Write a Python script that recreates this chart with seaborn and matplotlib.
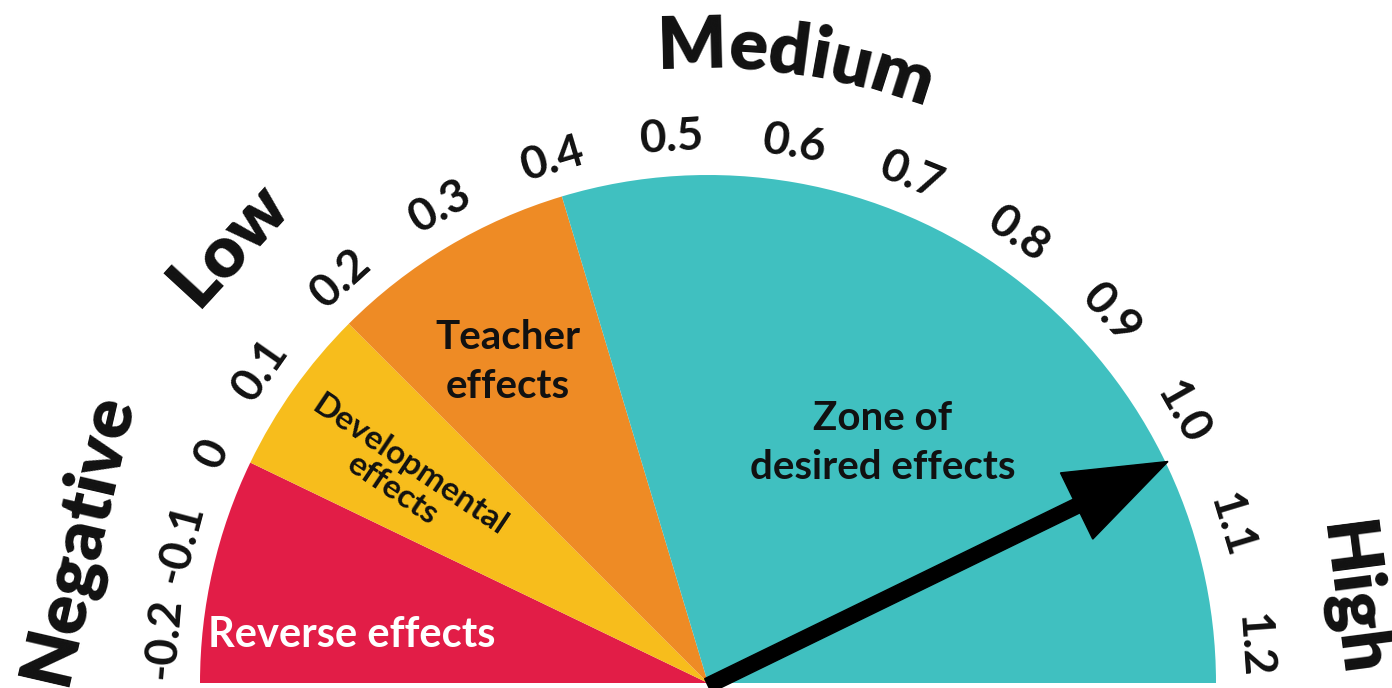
import numpy as np
import matplotlib
matplotlib.use("Agg")
import matplotlib.pyplot as plt
from matplotlib.patches import Wedge, FancyArrow
import seaborn as sns

# effect-size barometer
zone_names = ["Reverse effects", "Developmental\neffects", "Teacher\neffects", "Zone of\ndesired effects"]
zone_edges = [-0.2, 0.0, 0.15, 0.37, 1.2]
zone_colors = ["#E21D47", "#F7BD1C", "#EE8B25", "#40C0C0"]
tick_values = [-0.2, -0.1, 0.0, 0.1, 0.2, 0.3, 0.4, 0.5, 0.6, 0.7, 0.8, 0.9, 1.0, 1.1, 1.2]
tick_labels = ["-0.2", "-0.1", "0", "0.1", "0.2", "0.3", "0.4", "0.5", "0.6", "0.7", "0.8", "0.9", "1.0", "1.1", "1.2"]
band_names = ["Negative", "Low", "Medium", "High"]
needle_value = 1.0

sns.set_theme(style="white")
plt.rcParams["font.family"] = ["Lato", "DejaVu Sans"]
INK = "#111111"

lo, hi = zone_edges[0], zone_edges[-1]


def ang(v):
    return 180 - (v - lo) / (hi - lo) * 180


def polar(r, a):
    t = np.deg2rad(a)
    return r * np.cos(t), r * np.sin(t)


fig = plt.figure(figsize=(13.92, 6.88), dpi=100)
ax = fig.add_axes([0, 0, 1, 1])
R = 508.0
ax.set_xlim(-708 / R, 684 / R)
ax.set_ylim(-5 / R, 683 / R)
ax.set_aspect("equal")
ax.axis("off")
renderer = fig.canvas.get_renderer()

palette = sns.color_palette(zone_colors)
for i in range(len(zone_names)):
    w = Wedge((0, 0), 1.0, ang(zone_edges[i + 1]), ang(zone_edges[i]),
              facecolor=palette[i], edgecolor="none")
    ax.add_patch(w)

# zone labels
mid = [ang((zone_edges[i] + zone_edges[i + 1]) / 2) for i in range(4)]
ax.text(-0.985, 0.094, zone_names[0], color="white", fontsize=30, fontweight="bold",
        ha="left", va="center")
a_dev = mid[1] + 1.5
x, y = polar(0.727, a_dev)
ax.text(x, y, zone_names[1], color=INK, fontsize=24, fontweight="bold", ha="center",
        va="center", rotation=a_dev - 180, rotation_mode="anchor", linespacing=1.0)
x, y = polar(0.745, mid[2] + 1)
ax.text(x, y, zone_names[2], color=INK, fontsize=29, fontweight="bold", ha="center",
        va="center", linespacing=1.4)
x, y = polar(0.585, mid[3] + 0.6)
ax.text(x, y, zone_names[3], color=INK, fontsize=29, fontweight="bold", ha="center",
        va="center", linespacing=1.4)

# tick labels around the rim (spacing is a bit tighter at the left end)
for v, s in zip(tick_values, tick_labels):
    a = np.interp(v, [-0.2, 0.1, 1.2], [175.3, 145.0, 4.0])
    x, y = polar(1.075, a)
    ax.text(x, y, s, color=INK, fontsize=33, fontweight="bold", ha="center", va="center",
            rotation=a - 90, rotation_mode="anchor")

# band labels
band_angles = [167, 137.4, 82.0, 7.4]
band_radii = [1.27, 1.28, 1.21, 1.275]


def arc_text(s, r, a0, **kw):
    # lay characters along a circle, centred on angle a0
    widths = []
    for i in range(len(s) + 1):
        t = ax.text(0, 0, s[:i] if i else "", **kw)
        widths.append(t.get_window_extent(renderer).width if i else 0.0)
        t.remove()
    total = widths[-1]
    for i, ch in enumerate(s):
        c = (widths[i] + widths[i + 1]) / 2 - total / 2
        a = a0 - np.rad2deg(c / (r * R))
        x, y = polar(r, a)
        ax.text(x, y, ch, ha="center", va="baseline", rotation=a - 90,
                rotation_mode="anchor", **kw)


for name, a, r in zip(band_names, band_angles, band_radii):
    style = dict(color=INK, fontsize=52, fontweight="heavy")
    if name == "Medium":
        arc_text(name, r, a, **style)
    else:
        x, y = polar(r, a)
        ax.text(x, y, name, ha="center", va="center", rotation=a - 90,
                rotation_mode="anchor", **style)

# needle
tx, ty = polar(1.005, ang(needle_value))
ax.add_patch(FancyArrow(0, -0.005, tx, ty + 0.005, width=0.03, head_width=0.145,
                        head_length=0.2, length_includes_head=True,
                        color="black", zorder=5))

fig.savefig("out.png", dpi=100)
